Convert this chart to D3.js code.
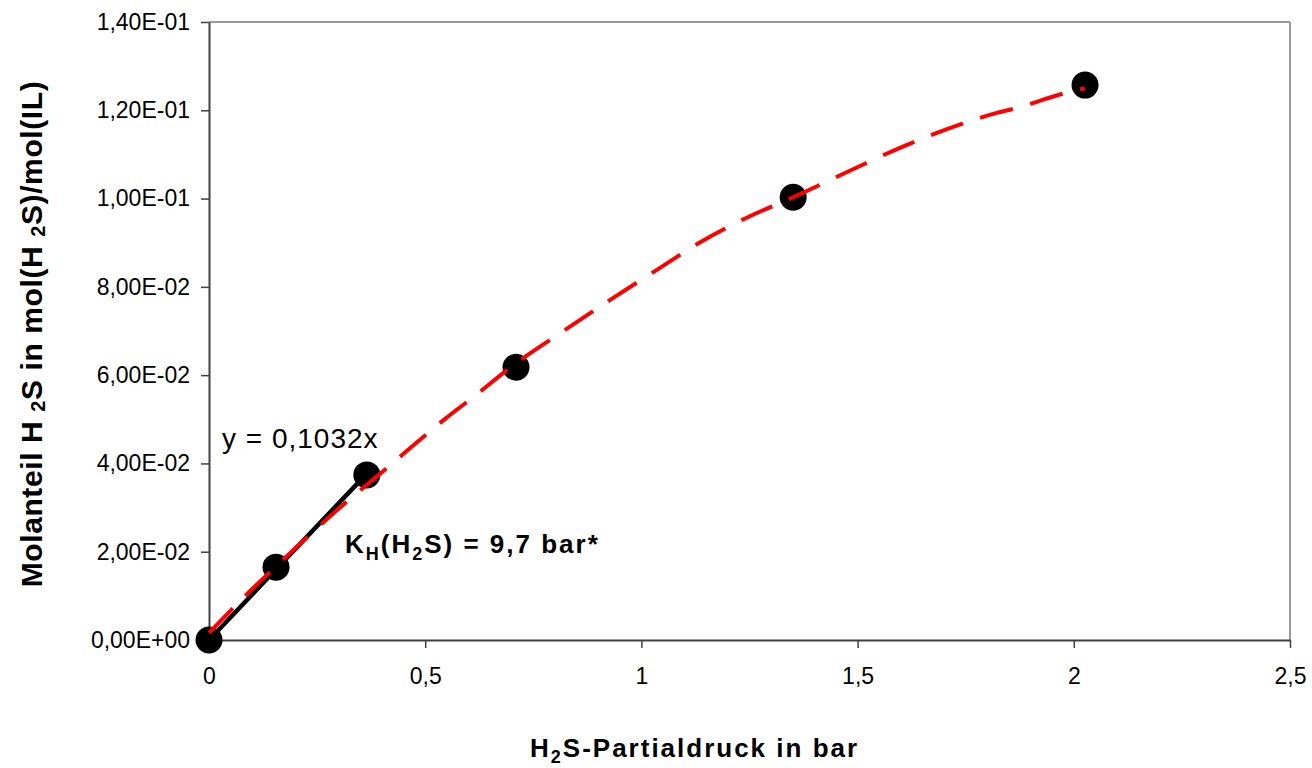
<!DOCTYPE html>
<html>
<head>
<meta charset="utf-8">
<script src="https://cdn.jsdelivr.net/npm/d3@7"></script>
<style>
  body { margin: 0; background: #fff; }
  svg { display: block; font-family: "Liberation Sans", Arial, sans-serif; }
</style>
</head>
<body>
<div id="chart"></div>
<script>
const pressure = [0, 0.155, 0.365, 0.71, 1.351, 2.026];
const molFraction = [0, 0.0165, 0.0374, 0.0618, 0.1003, 0.1257];

// linear trendline y = 0,1032x over the first three points
const trendX = [0, 0.365];
const trendY = [0, 0.0377];

// red dashed fit curve
const curveX = [0, 0.09, 0.153, 0.31, 0.412, 0.481, 0.546, 0.608, 0.71, 0.812, 0.927, 1.043, 1.136, 1.24, 1.351, 1.482, 1.598, 1.741, 1.822, 1.859, 1.98, 2.026];
const curveY = [0.0016, 0.0106, 0.0165, 0.0306, 0.039, 0.0448, 0.0501, 0.0548, 0.0627, 0.0695, 0.077, 0.0843, 0.0901, 0.0955, 0.1003, 0.1063, 0.1115, 0.1169, 0.1194, 0.1203, 0.1239, 0.125];

const xTicks = [0, 0.5, 1, 1.5, 2, 2.5];
const yTicks = [0, 0.02, 0.04, 0.06, 0.08, 0.1, 0.12, 0.14];

let width = 1312, height = 768;

let svg = d3.select("#chart")
  .append("svg")
  .attr("width", width)
  .attr("height", height);

svg.append("rect").attr("width", width).attr("height", height).attr("fill", "#fff");

let x = d3.scaleLinear().domain([0, 2.5]).range([209, 1290]);
let y = d3.scaleLinear().domain([0, 0.14]).range([640, 22]);

// Excel style labels: 1,40E-01
function sciLabel(d) {
  let parts = d.toExponential(2).split("e");
  let e = parts[1];
  return parts[0].replace(".", ",") + "E" + e[0] + e.slice(1).padStart(2, "0");
}

// frame: top and right border
svg.append("line")
  .attr("x1", x(0)).attr("x2", x(2.5)).attr("y1", y(0.14)).attr("y2", y(0.14))
  .attr("stroke", "#9a9a9a").attr("stroke-width", 2);
svg.append("line")
  .attr("x1", x(2.5)).attr("x2", x(2.5)).attr("y1", y(0.14)).attr("y2", y(0))
  .attr("stroke", "#9a9a9a").attr("stroke-width", 2);

// axes
let xAxis = d3.axisBottom(x)
  .tickValues(xTicks)
  .tickSize(8)
  .tickSizeOuter(0)
  .tickPadding(20)
  .tickFormat(d => String(d).replace(".", ","));

let yAxis = d3.axisLeft(y)
  .tickValues(yTicks)
  .tickSize(8)
  .tickSizeOuter(0)
  .tickPadding(11)
  .tickFormat(sciLabel);

let xAxisEl = svg.append("g")
  .attr("transform", "translate(0," + y(0) + ")")
  .call(xAxis);

let yAxisEl = svg.append("g")
  .attr("transform", "translate(" + x(0) + ",0)")
  .call(yAxis);

[xAxisEl, yAxisEl].forEach(a => {
  a.select(".domain").attr("stroke", "#404040").attr("stroke-width", 2);
  a.selectAll(".tick line").attr("stroke", "#404040").attr("stroke-width", 1.5);
  a.selectAll(".tick text")
    .attr("fill", "#000")
    .style("font-size", "23px")
    .style("font-family", "'Liberation Sans', Arial, sans-serif");
});

// linear trendline
let line = d3.line().x(d => x(d[0])).y(d => y(d[1]));
svg.append("path")
  .datum(trendX.map((v, i) => [v, trendY[i]]))
  .attr("d", line)
  .attr("fill", "none")
  .attr("stroke", "#000")
  .attr("stroke-width", 4.5);

// data points
svg.append("g")
  .selectAll("circle")
  .data(pressure.map((v, i) => [v, molFraction[i]]))
  .join("circle")
  .attr("cx", d => x(d[0]))
  .attr("cy", d => y(d[1]))
  .attr("r", 13.5)
  .attr("fill", "#000");

// red dashed curve on top
let curveLine = d3.line().x(d => x(d[0])).y(d => y(d[1])).curve(d3.curveMonotoneX);
svg.append("path")
  .datum(curveX.map((v, i) => [v, curveY[i]]))
  .attr("d", curveLine)
  .attr("fill", "none")
  .attr("stroke", "#ff0000")
  .attr("stroke-width", 4)
  .attr("stroke-dasharray", "34,18");

// equation label
svg.append("text")
  .attr("x", 222).attr("y", 448)
  .style("font-size", "28px")
  .style("letter-spacing", "1px")
  .text("y = 0,1032x");

// K_H label
let kh = svg.append("text")
  .attr("x", 345).attr("y", 553)
  .style("font-size", "26px")
  .style("font-weight", "bold")
  .style("letter-spacing", "2px");
kh.append("tspan").text("K");
kh.append("tspan").attr("dy", 7).style("font-size", "18px").text("H");
kh.append("tspan").attr("dy", -7).text("(H");
kh.append("tspan").attr("dy", 7).style("font-size", "18px").text("2");
kh.append("tspan").attr("dy", -7).text("S) = 9,7 bar*");

// x axis title
let xt = svg.append("text")
  .attr("x", 530).attr("y", 757)
  .style("font-size", "26px")
  .style("font-weight", "bold")
  .style("letter-spacing", "2px");
xt.append("tspan").text("H");
xt.append("tspan").attr("dy", 6).style("font-size", "18px").text("2");
xt.append("tspan").attr("dy", -6).text("S-Partialdruck in bar");

// y axis title
let yt = svg.append("text")
  .attr("transform", "translate(42,334) rotate(-90)")
  .attr("text-anchor", "middle")
  .style("font-size", "30px")
  .style("font-weight", "bold")
  .style("letter-spacing", "0.6px");
yt.append("tspan").text("Molanteil H ");
yt.append("tspan").attr("dy", 3).style("font-size", "20px").text("2");
yt.append("tspan").attr("dy", -3).text("S in mol(H ");
yt.append("tspan").attr("dy", 3).style("font-size", "20px").text("2");
yt.append("tspan").attr("dy", -3).text("S)/mol(IL)");
</script>
</body>
</html>
